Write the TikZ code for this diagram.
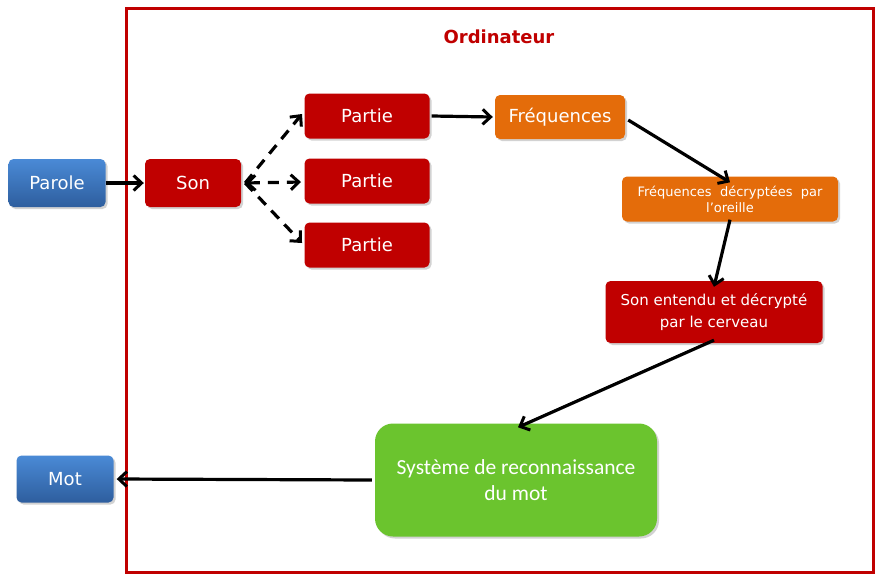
\documentclass[tikz,border=0pt]{standalone}
\usepackage{fontspec}
\setmainfont{DejaVu Sans}
\newfontfamily\calib{Carlito}
\usetikzlibrary{arrows.meta,shadows,positioning}
\definecolor{dred}{HTML}{C00000}
\definecolor{orng}{HTML}{E46C0A}
\definecolor{grn}{HTML}{6BC42E}
\definecolor{btop}{HTML}{4A8AD6}
\definecolor{bbot}{HTML}{2E5E9E}
\tikzset{
  box/.style={rounded corners=5pt, text=white, align=center, inner sep=2pt,
    drop shadow={opacity=0.35, shadow xshift=2pt, shadow yshift=-2pt}},
  redbox/.style={box, fill=dred},
  orbox/.style={box, fill=orng},
  bluebox/.style={box, top color=btop, bottom color=bbot, draw=none},
  tip/.tip={Straight Barb[length=8pt,width=15pt,line width=3pt]},
  conn/.style={line width=3.2pt, black, -tip},
  dconn/.style={conn, dash pattern=on 11pt off 8pt},
  big/.style={font=\fontsize{18}{20}\selectfont},
}
\begin{document}
\begin{tikzpicture}[x=1pt,y=-1pt]
\useasboundingbox (0,0) rectangle (882,576);
\fill[white] (0,0) rectangle (882,576);
% frame
\draw[dred, line width=3pt] (126,8) rectangle (873,572);
\node[text=dred, font=\bfseries\fontsize{18}{20}\selectfont] (title) at (499,37) {Ordinateur};

\node[bluebox, big, minimum width=97pt, minimum height=48pt] (parole) at (57,183) {Parole};
\node[redbox, big, minimum width=96pt, minimum height=48pt] (son) at (193,183) {Son};
\node[redbox, big, minimum width=125pt, minimum height=45pt] (p1) at (367,116) {Partie};
\node[redbox, big, minimum width=125pt, minimum height=45pt] (p2) at (367,181) {Partie};
\node[redbox, big, minimum width=125pt, minimum height=45pt] (p3) at (367,245) {Partie};
\node[orbox, big, minimum width=130pt, minimum height=44pt] (freq) at (560,117) {Fréquences};
\node[orbox, minimum width=216pt, minimum height=45pt, font=\fontsize{13}{16}\selectfont] (fdec) at (730,199) {\makebox[185pt]{Fréquences\hfill décryptées\hfill par}\\l’oreille};
\node[redbox, minimum width=217pt, minimum height=62pt, font=\fontsize{15}{22}\selectfont] (sonent) at (714,312) {Son entendu et décrypté\\par le cerveau};
\node[box, fill=grn, rounded corners=18pt, minimum width=282pt, minimum height=113pt, font=\calib\fontsize{21.5}{26}\selectfont] (sys) at (516,480) {Système de reconnaissance\\du mot};
\node[bluebox, big, minimum width=97pt, minimum height=47pt] (mot) at (65,479) {Mot};

\coordinate (sonE) at ([xshift=4pt]son.east);
\coordinate (t1) at (302,114);
\coordinate (t2) at (301,182);
\coordinate (t3) at (302,243);
\draw[conn] (parole.east) -- ([xshift=-1pt]son.west);
\draw[dconn] (sonE) -- (t1);
\draw[dconn, tip-tip] (sonE) -- (t2);
\draw[dconn] (sonE) -- (t3);
\draw[conn] ([xshift=2pt]p1.east) -- ([xshift=-2pt]freq.west);
\draw[conn] ([xshift=3pt,yshift=-3pt]freq.east) -- ([yshift=-6pt]fdec.north);
\draw[conn] ([yshift=2pt]fdec.south) -- ([yshift=-6pt]sonent.north);
\draw[conn] ([yshift=3pt]sonent.south) -- ([xshift=2pt,yshift=-4pt]sys.north);
\draw[conn] ([xshift=-3pt]sys.west) -- ([xshift=3pt]mot.east);
\end{tikzpicture}
\end{document}
